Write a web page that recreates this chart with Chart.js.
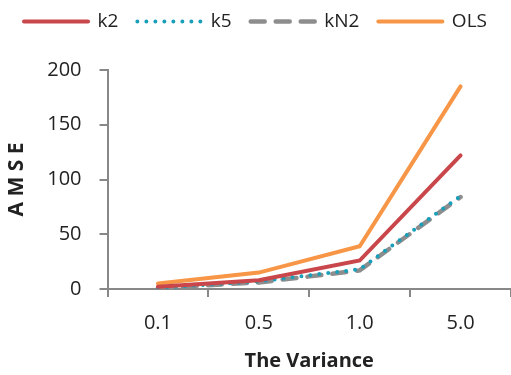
<!DOCTYPE html>
<html>
<head>
<meta charset="utf-8">
<script src="https://cdn.jsdelivr.net/npm/chart.js@4/dist/chart.umd.min.js"></script>
<style>
  html, body { margin: 0; padding: 0; background: #fff; }
  #wrap { width: 511px; height: 375px; }
</style>
</head>
<body>
<div id="wrap"><canvas id="amseChart" width="511" height="375"></canvas></div>
<script>
const variances = ['0.1', '0.5', '1.0', '5.0'];
const k2 = [2, 8, 26, 122];
const k5 = [1, 7, 18, 85];
const kN2 = [1, 6, 17, 84];
const ols = [5, 15, 39, 185];
const yTicks = [0, 50, 100, 150, 200];

const axisGray = '#888888';
const textColor = '#222222';
const fontFamily = '"Open Sans", sans-serif';

// leave a gap between the legend and the plot area
const legendGap = {
    id: 'legendGap',
    beforeInit(chart) {
        const origFit = chart.legend.fit;
        chart.legend.fit = function () {
            origFit.bind(chart.legend)();
            this.height += 29;
        };
    }
};

const ctx = document.getElementById('amseChart').getContext('2d');
const amseChart = new Chart(ctx, {
    type: 'line',
    data: {
        labels: variances,
        datasets: [
            { label: 'k2', data: k2, borderColor: '#c9464a', borderWidth: 4, pointRadius: 0, borderCapStyle: 'round' },
            { label: 'k5', data: k5, borderColor: '#1a9fba', borderWidth: 4, pointRadius: 0, borderDash: [0, 9], borderCapStyle: 'round' },
            { label: 'kN2', data: kN2, borderColor: '#8d8d8d', borderWidth: 4.5, pointRadius: 0, borderDash: [14, 11], borderCapStyle: 'round' },
            { label: 'OLS', data: ols, borderColor: '#f79646', borderWidth: 4, pointRadius: 0, borderCapStyle: 'round' }
        ]
    },
    plugins: [legendGap],
    options: {
        responsive: false,
        animation: false,
        layout: { padding: { left: 0, right: 0, top: -7, bottom: -2 } },
        plugins: {
            tooltip: { enabled: false },
            legend: {
                position: 'top',
                labels: {
                    usePointStyle: true,
                    pointStyleWidth: 64,
                    boxHeight: 18,
                    padding: 19,
                    color: textColor,
                    font: { family: fontFamily, size: 19 },
                    // build legend items straight from the datasets so the dash pattern shows
                    generateLabels: chart => chart.data.datasets.map((ds, i) => ({
                        text: ds.label,
                        datasetIndex: i,
                        pointStyle: 'line',
                        strokeStyle: ds.borderColor,
                        fillStyle: ds.borderColor,
                        lineWidth: ds.borderWidth,
                        lineDash: ds.borderDash || [],
                        lineCap: 'round',
                        fontColor: textColor,
                        hidden: false
                    }))
                }
            }
        },
        scales: {
            x: {
                offset: true,
                grid: { offset: true, drawOnChartArea: false, tickLength: 8, color: axisGray, lineWidth: 2 },
                border: { color: axisGray, width: 2 },
                ticks: { color: textColor, padding: 14, font: { family: fontFamily, size: 20 } },
                title: { display: true, text: 'The Variance', color: textColor, padding: { top: 0 }, font: { family: fontFamily, size: 20, weight: 'bold' } }
            },
            y: {
                min: 0,
                max: 200,
                afterBuildTicks: axis => { axis.ticks = yTicks.map(v => ({ value: v })); },
                grid: { drawOnChartArea: false, tickLength: 8, color: axisGray, lineWidth: 2 },
                border: { color: axisGray, width: 2 },
                ticks: { color: textColor, padding: 18, font: { family: fontFamily, size: 20 } },
                title: { display: true, text: 'A M S E', color: textColor, padding: { top: 4, bottom: 0 }, font: { family: fontFamily, size: 21, weight: 'bold' } }
            }
        }
    }
});
</script>
</body>
</html>
